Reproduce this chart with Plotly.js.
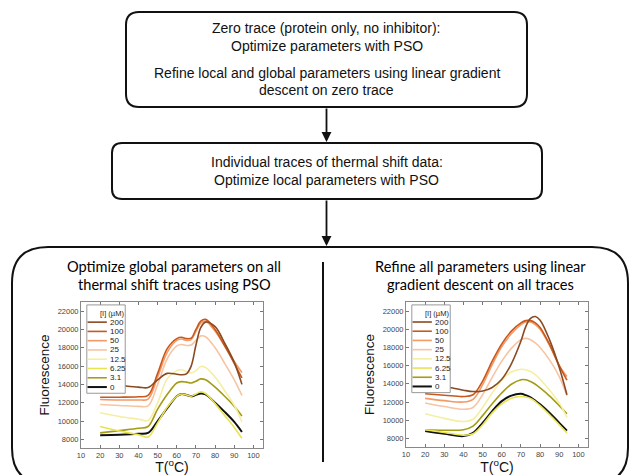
<!DOCTYPE html>
<html><head><meta charset="utf-8">
<script src="https://cdn.plot.ly/plotly-3.0.1.min.js"></script>
<style>html,body{margin:0;padding:0;background:#fff}#chart{width:630px;height:475px}</style>
</head><body><div id="chart"></div>
<script>
// ---------- data ----------
const concLabels = ['200','100','50','25','12.5','6.25','3.1','0'];
const concColors = ['#8a4a22','#c8581c','#f39a66','#f8c4a2','#f4efa2','#e9e350','#a49c14','#111111'];
const legendTitle = '[I] (µM)';

// Left panel: global PSO fit
const tempsPSO = [20,30,40,45,50,55,60,62.5,65,67.5,70,72.5,75,80,85,90,94];
const pso200  = [14100,13900,13700,13650,14500,15200,15100,15050,15150,16000,18300,20200,20800,20300,18500,16400,14000];
const pso100  = [12600,12600,12650,12800,15200,17900,19000,19150,19000,19050,20000,20900,21100,20000,18200,16300,14700];
const pso50   = [12350,12300,12300,12400,14800,17500,18800,18950,18800,18900,19800,20700,20900,19800,18200,16500,15300];
const pso25   = [11800,11700,11600,11650,14000,16800,18200,18350,18250,18300,18800,19300,19200,18000,16300,14500,12800];
const pso12_5 = [10900,10500,10200,10050,12000,14600,15500,15600,15400,15250,15500,15950,15850,14800,13300,11700,9900];
const pso6_25 = [9400,8900,8500,8250,9800,11500,12700,12950,12850,12700,12950,13200,13000,11900,10600,9300,8100];
const pso3_1  = [8700,8950,9200,9400,11300,12900,14150,14300,14250,14150,14350,14600,14500,13700,12700,11600,10550];
const pso0    = [8450,8500,8600,8700,10000,11400,12700,12950,12850,12700,12850,13000,12900,12000,11000,9900,8800];

// Right panel: gradient-descent refinement
const tempsGD = [20,30,40,45,50,55,60,65,70,72.5,75,77.5,80,85,90,94];
const gd200  = [14000,13700,13300,13150,13200,13600,14500,16200,18700,20300,21200,21400,21000,18800,15800,12800];
const gd100  = [12900,12750,12600,12800,14300,16500,18400,19800,20700,20950,20950,20700,20200,18300,16000,14400];
const gd50   = [12400,12150,12000,12300,13900,16100,18100,19500,20500,20800,20800,20500,20000,18200,16000,14800];
const gd25   = [11900,11500,11200,11400,12800,14700,16500,17900,18850,19000,18850,18500,18000,16600,14800,12700];
const gd12_5 = [10700,10200,9850,10100,11400,13000,14400,15300,15600,15550,15350,15000,14500,13300,11900,10300];
const gd6_25 = [8950,8650,8350,8500,9500,10800,11800,12400,12600,12550,12400,12050,11600,10600,9500,8600];
const gd3_1  = [8950,8900,8950,9350,10500,11800,13000,13950,14450,14450,14250,13950,13550,12650,11600,10700];
const gd0    = [8800,8500,8250,8600,9700,11000,12100,12700,12900,12750,12500,12150,11750,10800,9700,8850];

const xTicks = [10,20,30,40,50,60,70,80,90,100];
const yTicks = [8000,10000,12000,14000,16000,18000,20000,22000];

// ---------- helpers ----------
const W = 630, H = 475;
const px = x => x / W;
const py = y => 1 - y / H;
const FONT = 'Liberation Sans, Arial, sans-serif';
const TFONT = 'Lato, Open Sans, sans-serif';

function roundRect(x0, y0, x1, y1, r) {
  const P = (x, y) => px(x) + ',' + py(y);
  return 'M' + P(x0 + r, y0) + ' L' + P(x1 - r, y0) + ' Q' + P(x1, y0) + ' ' + P(x1, y0 + r) +
    ' L' + P(x1, y1 - r) + ' Q' + P(x1, y1) + ' ' + P(x1 - r, y1) +
    ' L' + P(x0 + r, y1) + ' Q' + P(x0, y1) + ' ' + P(x0, y1 - r) +
    ' L' + P(x0, y0 + r) + ' Q' + P(x0, y0) + ' ' + P(x0 + r, y0) + ' Z';
}

const psoSeries = [pso200, pso100, pso50, pso25, pso12_5, pso6_25, pso3_1, pso0];
const gdSeries  = [gd200, gd100, gd50, gd25, gd12_5, gd6_25, gd3_1, gd0];

const traces = [];
function addTraces(xs, series, xa, ya) {
  for (let i = series.length - 1; i >= 0; i--) {
    traces.push({
      x: xs, y: series[i], xaxis: xa, yaxis: ya, type: 'scatter', mode: 'lines',
      name: concLabels[i], showlegend: false, hoverinfo: 'skip',
      line: {color: concColors[i], width: i === 7 ? 2 : 1.6, shape: 'spline', smoothing: 1}
    });
  }
}
addTraces(tempsPSO, psoSeries, 'x', 'y');
addTraces(tempsGD, gdSeries, 'x2', 'y2');

function xAxis(domain, anchor) {
  return {
    domain: domain, anchor: anchor, range: [10, 105], tickvals: xTicks,
    ticks: 'inside', ticklen: 3, tickcolor: '#777', showline: true, linecolor: '#888', linewidth: 1,
    mirror: 'ticks', showgrid: false, zeroline: false,
    tickfont: {family: FONT, size: 7.5, color: '#444'},
    title: {text: 'T(<sup>o</sup>C)', font: {family: FONT, size: 14, color: '#111'}, standoff: 6}
  };
}
function yAxis(domain, anchor) {
  return {
    domain: domain, anchor: anchor, range: [7050, 23000], tickvals: yTicks, tickformat: 'd',
    ticks: 'inside', ticklen: 3, tickcolor: '#777', showline: true, linecolor: '#888', linewidth: 1,
    mirror: 'ticks', showgrid: false, zeroline: false,
    tickfont: {family: FONT, size: 7.5, color: '#444'},
    title: {text: 'Fluorescence', font: {family: FONT, size: 13.5, color: '#111'}, standoff: 4}
  };
}

const shapes = [];
const annotations = [];

shapes.push({type: 'path', xref: 'paper', yref: 'paper', path: roundRect(126, 12, 527, 107, 13), line: {color: '#111', width: 2}});
shapes.push({type: 'path', xref: 'paper', yref: 'paper', path: roundRect(112, 143, 542, 199, 10), line: {color: '#111', width: 2}});
shapes.push({type: 'path', xref: 'paper', yref: 'paper', path: roundRect(12, 247, 628, 484, 36), line: {color: '#111', width: 2}});
shapes.push({type: 'line', xref: 'paper', yref: 'paper', x0: px(323), x1: px(323), y0: py(262), y1: py(462), line: {color: '#111', width: 2}});

[[107, 142], [199, 246]].forEach(([a, b]) => {
  annotations.push({xref: 'paper', yref: 'paper', x: px(326.5), y: py(b), ax: 0, ay: -(b - a), text: '',
    showarrow: true, arrowhead: 2, arrowsize: 1.1, arrowwidth: 1.8, arrowcolor: '#111'});
});

function txt(x, y, text, size, family, color) {
  annotations.push({xref: 'paper', yref: 'paper', x: px(x), y: py(y), text: text, showarrow: false,
    xanchor: 'center', yanchor: 'middle', font: {family: family || FONT, size: size, color: color || '#111'}});
}
txt(326.5, 28, 'Zero trace (protein only, no inhibitor):', 14);
txt(326.5, 46, 'Optimize parameters with PSO', 14);
txt(326.5, 73, 'Refine local and global parameters using linear gradient', 14);
txt(326.5, 90, 'descent on zero trace', 14);
txt(326.5, 162, 'Individual traces of thermal shift data:', 14);
txt(326.5, 180, 'Optimize local parameters with PSO', 14);

txt(174, 266, 'Optimize global parameters on all', 14.6, TFONT, '#000');
txt(174, 284, 'thermal shift traces using PSO', 14.6, TFONT, '#000');
txt(481, 266, 'Refine all parameters using linear', 14.6, TFONT, '#000');
txt(481, 284, 'gradient descent on all traces', 14.6, TFONT, '#000');

function addLegend(xa, ya) {
  const xr = xa + ' domain', yr = ya + ' domain';
  shapes.push({type: 'rect', xref: xr, yref: yr, x0: 0.032, x1: 0.243, y0: 0.375, y1: 0.98,
    line: {color: '#999', width: 1}, fillcolor: '#fff', layer: 'above'});
  annotations.push({xref: xr, yref: yr, x: 0.168, y: 0.92, text: legendTitle, showarrow: false,
    xanchor: 'center', yanchor: 'middle', font: {family: FONT, size: 7.5, color: '#222'}});
  concLabels.forEach((lab, i) => {
    const yy = 0.862 - i * 0.0635;
    shapes.push({type: 'line', xref: xr, yref: yr, x0: 0.036, x1: 0.142, y0: yy, y1: yy,
      line: {color: concColors[i], width: i === 7 ? 2 : 1.6}, layer: 'above'});
    annotations.push({xref: xr, yref: yr, x: 0.147, y: yy, text: lab, showarrow: false,
      xanchor: 'left', yanchor: 'middle', font: {family: FONT, size: 8, color: '#222'}});
  });
}
addLegend('x', 'y');
addLegend('x2', 'y2');

const layout = {
  width: W, height: H, margin: {l: 0, r: 0, t: 0, b: 0},
  paper_bgcolor: '#fff', plot_bgcolor: 'rgba(0,0,0,0)', showlegend: false,
  xaxis: xAxis([px(81), px(263)], 'y'),
  yaxis: yAxis([py(448), py(302)], 'x'),
  xaxis2: xAxis([px(406), px(588)], 'y2'),
  yaxis2: yAxis([py(447), py(302)], 'x2'),
  shapes: shapes, annotations: annotations
};
Plotly.newPlot('chart', traces, layout, {staticPlot: true});
</script></body></html>
